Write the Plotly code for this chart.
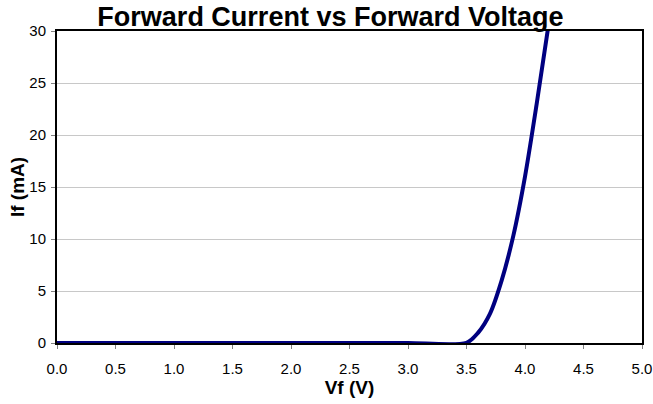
import plotly.graph_objects as go

vf = [0.0, 0.5, 1.0, 1.5, 2.0, 2.5, 3.0, 3.5, 3.6, 3.7, 3.8, 3.9, 4.0, 4.1, 4.2]
if_ma = [0.0, 0.0, 0.0, 0.0, 0.0, 0.0, 0.0, 0.02, 1.0, 2.8, 6.0, 10.3, 16.0, 23.0, 30.5]

x_ticks = [0.0, 0.5, 1.0, 1.5, 2.0, 2.5, 3.0, 3.5, 4.0, 4.5, 5.0]
y_ticks = [0, 5, 10, 15, 20, 25, 30]

fig = go.Figure()
fig.add_trace(go.Scatter(
    x=vf, y=if_ma, mode="lines",
    line=dict(color="#000080", width=4, shape="spline", smoothing=0.8),
    cliponaxis=False, showlegend=False,
))

font = "Liberation Sans, Arial, sans-serif"
fig.update_layout(
    width=653, height=404,
    margin=dict(l=57, r=11, t=31, b=61, autoexpand=False),
    paper_bgcolor="white", plot_bgcolor="white",
    font=dict(family=font, size=15, color="black"),
    title=dict(text="<b>Forward Current vs Forward Voltage</b>",
               font=dict(size=27, family=font, color="black"),
               x=0.506, xanchor="center", yref="container", y=0.958, yanchor="middle"),
    xaxis=dict(
        range=[0, 5], tickvals=x_ticks, ticktext=[f"{v:.1f}" for v in x_ticks],
        showgrid=False, zeroline=False, automargin=False,
        showline=True, linecolor="black", linewidth=2, mirror=True,
        ticks="outside", ticklen=4, tickcolor="#808080", tickwidth=1,
        ticklabelstandoff=7,
        title=dict(text="<b>Vf (V)</b>", font=dict(size=19, family=font), standoff=2),
    ),
    yaxis=dict(
        range=[0, 30], tickvals=y_ticks,
        showgrid=True, gridcolor="#c8c8c8", gridwidth=1, zeroline=False, automargin=False,
        showline=True, linecolor="black", linewidth=2, mirror=True,
        ticks="outside", ticklen=4, tickcolor="#808080", tickwidth=1,
        ticklabelstandoff=2,
        title=dict(text="<b>If (mA)</b>", font=dict(size=19, family=font), standoff=0),
    ),
)

fig.write_html("out.html", config={"displayModeBar": False},
               post_script="document.body.style.margin='0';")
